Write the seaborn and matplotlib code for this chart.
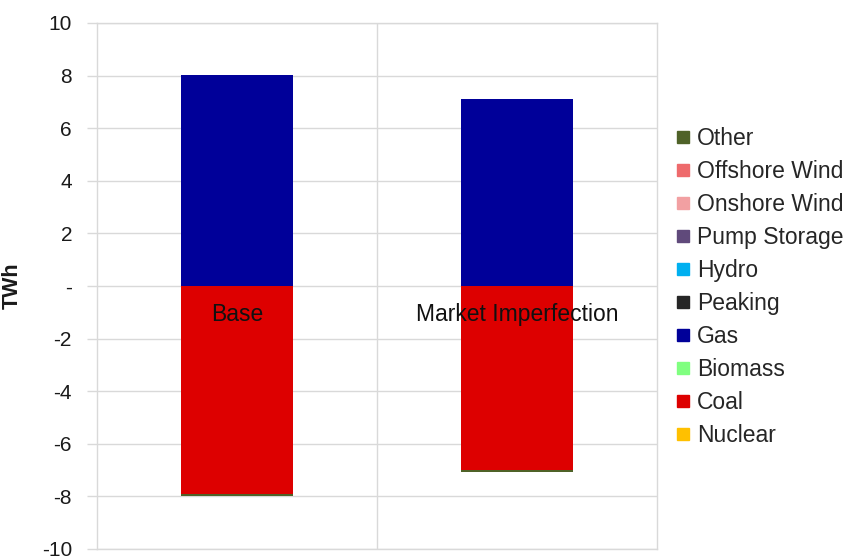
import matplotlib
matplotlib.use("Agg")
import matplotlib.pyplot as plt
from matplotlib.lines import Line2D
import numpy as np
import pandas as pd
import seaborn as sns

# Change in generation by technology, TWh
scenarios = ["Base", "Market Imperfection"]
technologies = ["Nuclear", "Coal", "Biomass", "Gas", "Peaking", "Hydro",
                "Pump Storage", "Onshore Wind", "Offshore Wind", "Other"]
nuclear = [0.0, 0.0]
coal = [-7.92, -6.98]
biomass = [0.0, 0.0]
gas = [8.02, 7.10]
peaking = [0.0, 0.0]
hydro = [0.0, 0.0]
pump_storage = [0.0, 0.0]
onshore_wind = [0.0, 0.0]
offshore_wind = [0.0, 0.0]
other = [-0.07, -0.08]

colors = {
    "Nuclear": "#FFC000",
    "Coal": "#DD0000",
    "Biomass": "#80FF80",
    "Gas": "#000099",
    "Peaking": "#262626",
    "Hydro": "#00B0F0",
    "Pump Storage": "#604A7B",
    "Onshore Wind": "#F2A0A2",
    "Offshore Wind": "#EE6A6C",
    "Other": "#4F6228",
}

series = [nuclear, coal, biomass, gas, peaking, hydro, pump_storage,
          onshore_wind, offshore_wind, other]
values = np.array(series, dtype=float)

sns.set_style("white")
plt.rcParams["font.family"] = ["Liberation Sans", "DejaVu Sans"]

fig = plt.figure(figsize=(8.51, 5.6), dpi=100)
ax = fig.add_axes([97 / 851, 11 / 560, 560 / 851, 526 / 560])

grid_c = "#d9d9d9"
ax.set_axisbelow(True)
for v in np.arange(-10, 11, 2):
    ax.axhline(v, color=grid_c, lw=1.0, zorder=0)
ax.axvline(0.5, color=grid_c, lw=1.0, zorder=0)

# Stacked bars: positive and negative parts stacked separately.
# Cumulative totals are overlaid from the outermost segment inward.
for sign in (1, -1):
    part = np.where(values * sign > 0, values, 0.0)
    cum = np.cumsum(part, axis=0)
    for k in range(len(technologies) - 1, -1, -1):
        if not np.any(part[k] != 0):
            continue
        df = pd.DataFrame({"scenario": scenarios, "value": cum[k]})
        sns.barplot(data=df, x="scenario", y="value", color=colors[technologies[k]],
                    width=0.4, saturation=1, ax=ax, zorder=2, linewidth=0)

ax.set_xlim(-0.5, 1.5)
ax.set_ylim(-10, 10)
ax.set_yticks(np.arange(-10, 11, 2))
ax.set_yticklabels([str(v) if v != 0 else "-" for v in range(-10, 11, 2)],
                   fontsize=15, color="#1a1a1a")
ax.tick_params(axis="y", direction="out", length=7, width=1, color=grid_c,
               left=True, pad=11)
ax.set_xticks([])
ax.set_xlabel("")
ax.set_ylabel("TWh", fontsize=15.5, fontweight="bold", labelpad=14, color="#1a1a1a")

for s in ax.spines.values():
    s.set_color(grid_c)
    s.set_linewidth(1.0)
    s.set_visible(True)

for i, name in enumerate(scenarios):
    ax.annotate(name, xy=(i, 0), xytext=(0, -12), textcoords="offset points",
                ha="center", va="top", fontsize=16.5, color="#111111", zorder=5)

handles = [Line2D([0], [0], marker="s", linestyle="none", markersize=8.5,
                  markerfacecolor=colors[t], markeredgecolor=colors[t])
           for t in reversed(technologies)]
fig.legend(handles, list(reversed(technologies)), loc="center left",
           bbox_to_anchor=(667 / 851, 1 - 287 / 560), frameon=False,
           fontsize=16.5, handlelength=0.6, handletextpad=0.3,
           labelspacing=0.44, borderaxespad=0)

fig.savefig("out.png", dpi=100)
